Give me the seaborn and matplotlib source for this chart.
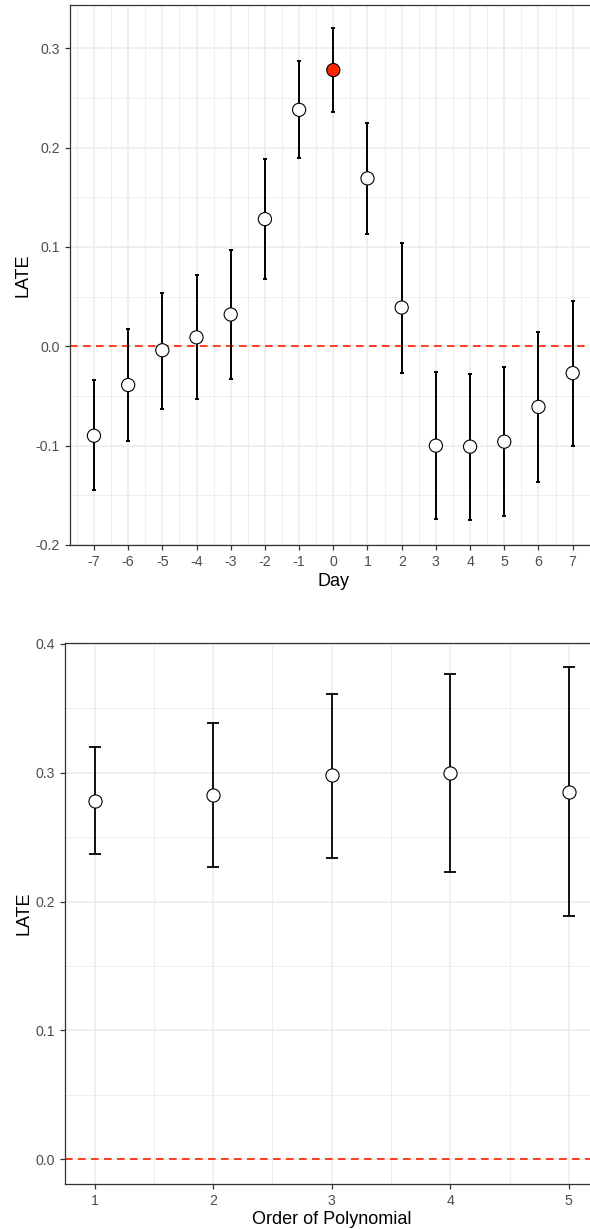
import matplotlib
matplotlib.use("Agg")
import matplotlib.pyplot as plt
import seaborn as sns
import numpy as np
import pandas as pd
from matplotlib.ticker import MultipleLocator

# ---- data: top panel (LATE by day) ----
days = [-7, -6, -5, -4, -3, -2, -1, 0, 1, 2, 3, 4, 5, 6, 7]
late_day = [-0.090, -0.039, -0.004, 0.009, 0.032, 0.128, 0.238, 0.278, 0.169, 0.039,
            -0.100, -0.101, -0.096, -0.061, -0.027]
upper_day = [-0.034, 0.017, 0.054, 0.072, 0.097, 0.188, 0.287, 0.320, 0.225, 0.104,
             -0.026, -0.028, -0.021, 0.014, 0.046]
lower_day = [-0.145, -0.095, -0.063, -0.053, -0.033, 0.068, 0.190, 0.236, 0.113, -0.027,
             -0.174, -0.175, -0.171, -0.137, -0.100]
highlight_day = 0

# ---- data: bottom panel (LATE by polynomial order) ----
orders = [1, 2, 3, 4, 5]
late_poly = [0.278, 0.283, 0.298, 0.300, 0.285]
upper_poly = [0.320, 0.339, 0.361, 0.377, 0.382]
lower_poly = [0.237, 0.227, 0.234, 0.223, 0.189]

sns.set_theme(style="white")
plt.rcParams['font.family'] = ['Liberation Sans', 'DejaVu Sans']

GRID = "#EBEBEB"
BORDER = "#333333"
TICKC = "#4D4D4D"
RED_PT = "#FF2400"
RED_LN = "#FF3010"

fig = plt.figure(figsize=(5.9, 12.29), dpi=100)

W, H = 590.0, 1229.0
ax1 = fig.add_axes([70 / W, (H - 545) / H, (596.6 - 70) / W, (545 - 4.7) / H])
ax2 = fig.add_axes([65.1 / W, (H - 1183.7) / H, (598.4 - 65.1) / W, (1183.7 - 643.3) / H])


def style(ax):
    ax.set_facecolor("white")
    ax.grid(True, which="major", color=GRID, linewidth=1.1, zorder=0)
    ax.grid(True, which="minor", color=GRID, linewidth=0.6, zorder=0)
    ax.set_axisbelow(True)
    for s in ax.spines.values():
        s.set_color(BORDER)
        s.set_linewidth(0.9)
        s.set_visible(True)
    ax.tick_params(axis="both", which="major", length=3.8, width=0.9, color=BORDER,
                   labelcolor=TICKC, labelsize=10.2, pad=3.5, direction="out",
                   bottom=True, left=True)
    ax.tick_params(axis="both", which="minor", length=0, bottom=False, left=False)


# ---- top panel ----
df1 = pd.DataFrame({"Day": days, "LATE": late_day, "up": upper_day, "lo": lower_day})
df1["hl"] = df1["Day"] == highlight_day
ax1.axhline(0, color=RED_LN, linestyle=(0, (4.2, 3.0)), linewidth=1.3, zorder=1)
ax1.errorbar(df1["Day"], df1["LATE"],
             yerr=[df1["LATE"] - df1["lo"], df1["up"] - df1["LATE"]],
             fmt="none", ecolor="black", elinewidth=1.4, capsize=1.6, capthick=1.4, zorder=2)
sns.scatterplot(data=df1, x="Day", y="LATE", hue="hl",
                palette={False: "white", True: RED_PT}, edgecolor="black",
                linewidth=0.8, s=90, legend=False, ax=ax1, zorder=3)
ax1.set_xlim(-7.7, 7.7)
ax1.set_ylim(-0.2, 0.3438)
ax1.xaxis.set_minor_locator(MultipleLocator(0.5))
ax1.yaxis.set_minor_locator(MultipleLocator(0.05))
ax1.set_xticks(days)
ax1.set_xticklabels([str(d) for d in days])
ax1.set_yticks([-0.2, -0.1, 0.0, 0.1, 0.2, 0.3])
ax1.set_yticklabels(["-0.2", "-0.1", "0.0", "0.1", "0.2", "0.3"])
style(ax1)
ax1.set_xlabel("Day", fontsize=13, color="black")
ax1.set_ylabel("LATE", fontsize=13, color="black")
ax1.xaxis.set_label_coords(0.5, -0.051)
ax1.yaxis.set_label_coords(-0.073, 0.5)

# ---- bottom panel ----
df2 = pd.DataFrame({"Order": orders, "LATE": late_poly, "up": upper_poly, "lo": lower_poly})
ax2.axhline(0, color=RED_LN, linestyle=(0, (4.2, 3.0)), linewidth=1.3, zorder=1)
ax2.errorbar(df2["Order"], df2["LATE"],
             yerr=[df2["LATE"] - df2["lo"], df2["up"] - df2["LATE"]],
             fmt="none", ecolor="black", elinewidth=1.3, capsize=4.4, capthick=1.3, zorder=2)
sns.scatterplot(data=df2, x="Order", y="LATE", color="white", edgecolor="black",
                linewidth=0.8, s=90, legend=False, ax=ax2, zorder=3)
ax2.set_xlim(0.75, 5.25)
ax2.set_ylim(-0.019, 0.4005)
ax2.xaxis.set_minor_locator(MultipleLocator(0.5))
ax2.yaxis.set_minor_locator(MultipleLocator(0.05))
ax2.set_xticks(orders)
ax2.set_xticklabels([str(o) for o in orders])
ax2.set_yticks([0.0, 0.1, 0.2, 0.3, 0.4])
ax2.set_yticklabels(["0.0", "0.1", "0.2", "0.3", "0.4"])
style(ax2)
ax2.set_xlabel("Order of Polynomial", fontsize=13, color="black")
ax2.set_ylabel("LATE", fontsize=13, color="black")
ax2.xaxis.set_label_coords(0.5, -0.0505)
ax2.yaxis.set_label_coords(-0.062, 0.5)

fig.savefig("out.png", dpi=100)
